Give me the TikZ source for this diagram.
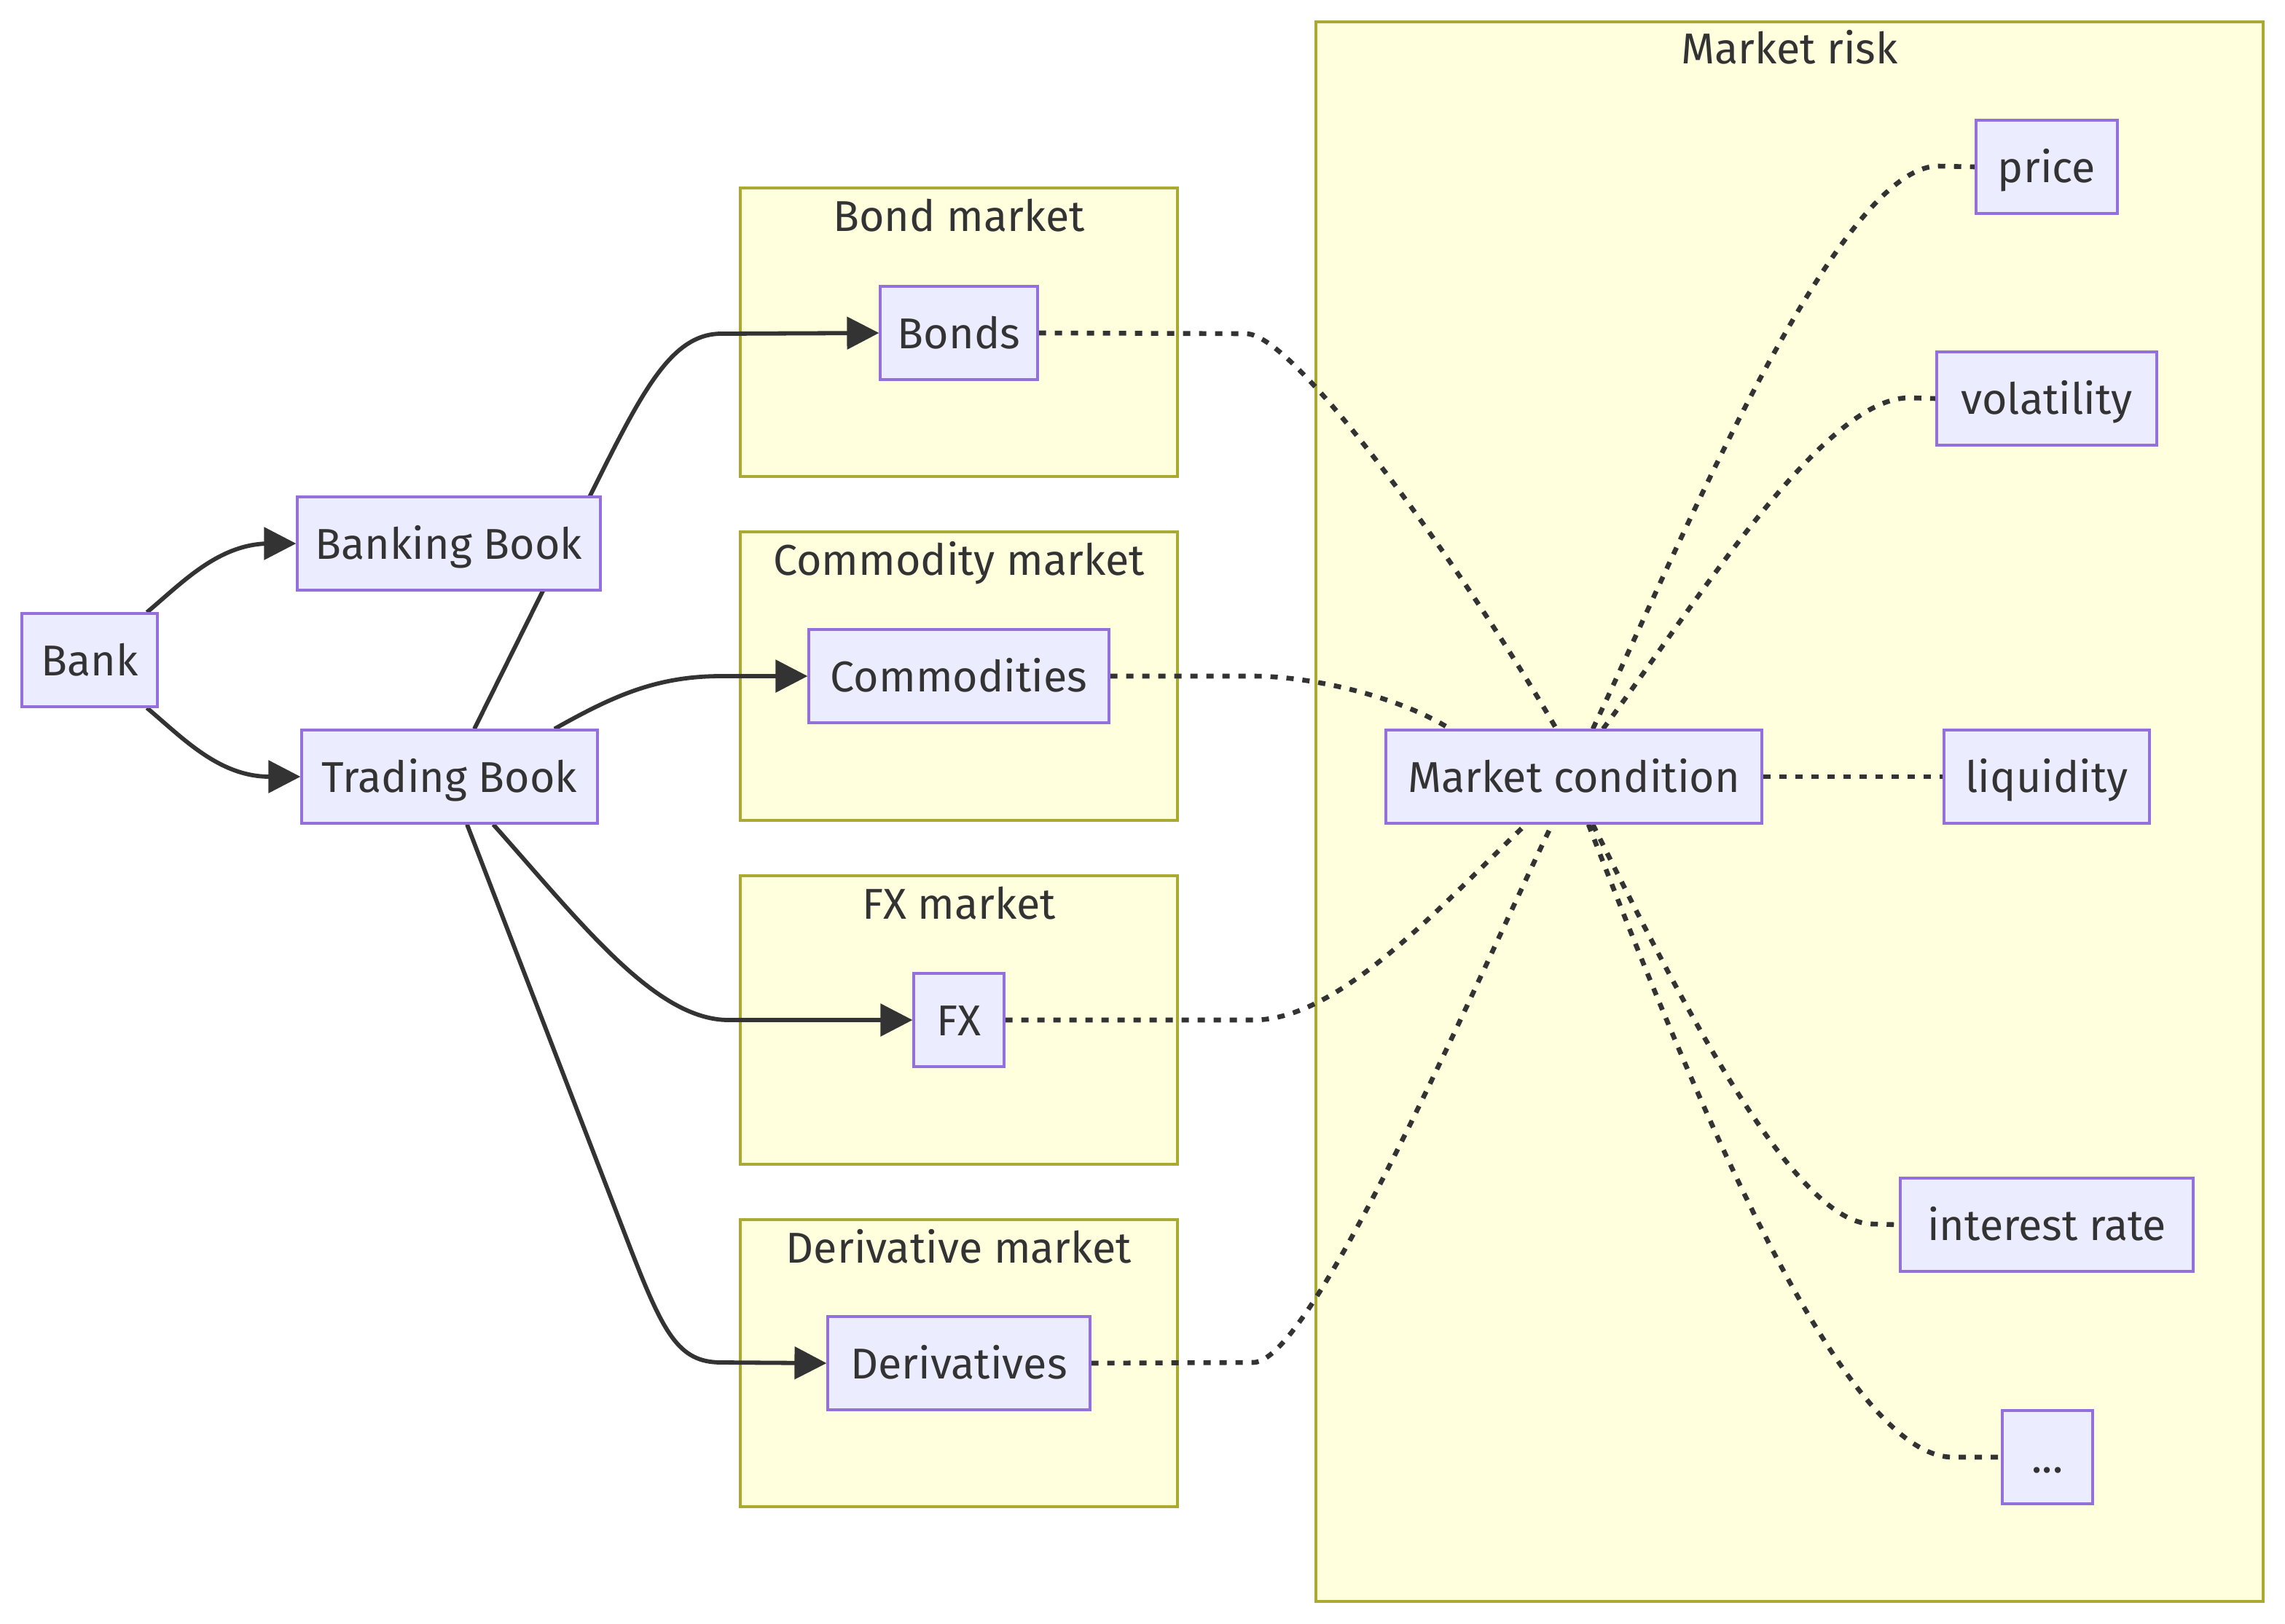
\documentclass[tikz,border=0pt]{standalone}
\usepackage{fontspec}
\setmainfont{Fira Sans}
\usetikzlibrary{arrows.meta}
\definecolor{nodefill}{HTML}{ECECFF}
\definecolor{nodeborder}{HTML}{9370DB}
\definecolor{clfill}{HTML}{FFFFDE}
\definecolor{clborder}{HTML}{AAAA33}
\definecolor{ink}{HTML}{333333}
\pgfdeclarelayer{bg}
\pgfdeclarelayer{edges}
\pgfsetlayers{bg,edges,main}
\tikzset{
  box/.style={draw=nodeborder, fill=nodefill, line width=1.6pt, minimum height=64pt,
    inner sep=0pt, text=ink, font=\fontsize{29.6}{35}\selectfont, text height=21pt, text depth=0pt},
  cluster/.style={draw=clborder, fill=clfill, line width=1.6pt, inner sep=0pt},
  cltitle/.style={text=ink, font=\fontsize{29.6}{35}\selectfont, text height=21pt, text depth=0pt, inner sep=0pt},
  solidlink/.style={draw=ink, line width=2.9pt, -{Triangle[length=22pt,width=22pt]}},
  dotlink/.style={draw=ink, line width=3.3pt, dash pattern=on 5pt off 6pt},
}
\begin{document}
\begin{tikzpicture}[x=1pt,y=-1pt]
\useasboundingbox (0,0) rectangle (1568,1114);
% clusters
\begin{pgfonlayer}{bg}
\fill[white] (0,0) rectangle (1568,1114);
\node[cluster, minimum width=300pt, minimum height=198pt] (cbond) at (658,228) {};
\node[cluster, minimum width=300pt, minimum height=198pt] (ccomm) at (658,464) {};
\node[cluster, minimum width=300pt, minimum height=198pt] (cfx) at (658,700) {};
\node[cluster, minimum width=300pt, minimum height=197pt] (cder) at (658,935.5) {};
\node[cluster, minimum width=650pt, minimum height=1084pt] (crisk) at (1228,557) {};
\node[cltitle] (tbond) at (658,148) {Bond market};
\node[cltitle] (tcomm) at (658,384) {Commodity market};
\node[cltitle] (tfx) at (658,620) {FX market};
\node[cltitle] (tder) at (658,856) {Derivative market};
\node[cltitle] (trisk) at (1228,33) {Market risk};
\end{pgfonlayer}
% nodes
\node[box, minimum width=93pt] (bank) at (61.5,453) {Bank};
\node[box, minimum width=208pt] (bb) at (308,373) {Banking Book};
\node[box, minimum width=203pt] (tb) at (308.5,533) {Trading Book};
\node[box, minimum width=108pt] (bonds) at (658,228.5) {Bonds};
\node[box, minimum width=206pt] (comm) at (658,464) {Commodities};
\node[box, minimum width=62pt] (fx) at (658,700) {FX};
\node[box, minimum width=180pt] (der) at (658,935.5) {Derivatives};
\node[box, minimum width=258pt] (mc) at (1080,533) {Market condition};
\node[box, minimum width=97pt] (price) at (1404.5,114.5) {price};
\node[box, minimum width=151pt] (vol) at (1404.5,273.5) {volatility};
\node[box, minimum width=141pt] (liq) at (1404.5,533) {liquidity};
\node[box, minimum width=201pt] (ir) at (1404.5,840.5) {interest rate};
\node[box, minimum width=62pt] (etc) at (1405,1000) {...};
% edges
\begin{pgfonlayer}{edges}
\draw[solidlink] ([xshift=-8pt]bank.north east) .. controls (125,400) and (150,373) .. (185,373) -- (bb.west);
\draw[solidlink] ([xshift=-8pt]bank.south east) .. controls (125,506) and (150,533) .. (185,533) -- (tb.west);
\draw[solidlink] ([xshift=17pt]tb.north) -- (405,340) .. controls (440,270) and (460,229) .. (495,229) -- (bonds.west);
\draw[solidlink] ([xshift=72pt]tb.north) .. controls (420,478) and (450,464) .. (495,464) -- (comm.west);
\draw[solidlink] ([xshift=30pt]tb.south) .. controls (400,635) and (450,700) .. (500,700) -- (fx.west);
\draw[solidlink] ([xshift=12pt]tb.south) -- (430,850) .. controls (455,915) and (465,935) .. (495,935) -- (der.west);
\draw[dotlink] (bonds.east) -- (855,229) .. controls (890,229) and (1010,400) .. ([xshift=-12pt]mc.north);
\draw[dotlink] (comm.east) -- (860,464) .. controls (900,464) and (960,478) .. ([xshift=-85pt]mc.north);
\draw[dotlink] (fx.east) -- (860,700) .. controls (920,700) and (990,620) .. ([xshift=-33pt]mc.south);
\draw[dotlink] (der.east) -- (860,935) .. controls (900,935) and (1010,680) .. ([xshift=-15pt]mc.south);
\draw[dotlink] ([xshift=13pt]mc.north) .. controls (1150,380) and (1260,114) .. (1330,114) -- (price.west);
\draw[dotlink] ([xshift=20pt]mc.north) .. controls (1160,420) and (1250,273) .. (1310,273) -- (vol.west);
\draw[dotlink] (mc.east) -- (liq.west);
\draw[dotlink] ([xshift=13pt]mc.south) .. controls (1150,680) and (1230,840) .. (1285,840) -- (ir.west);
\draw[dotlink] ([xshift=10pt]mc.south) .. controls (1150,720) and (1260,1000) .. (1340,1000) -- (etc.west);
\end{pgfonlayer}
\end{tikzpicture}
\end{document}
